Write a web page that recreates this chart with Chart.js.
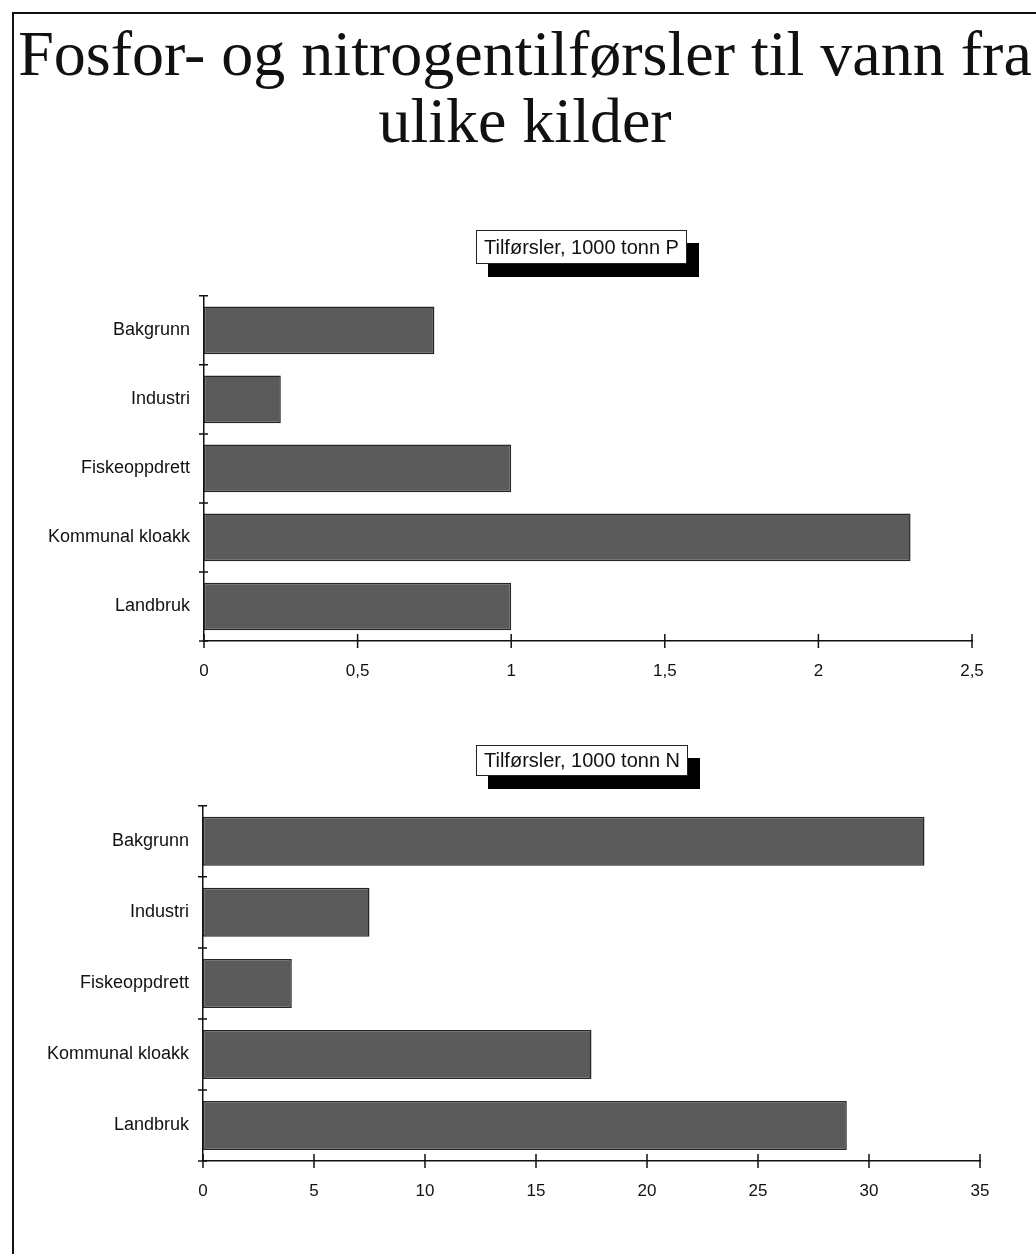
<!DOCTYPE html>
<html>
<head>
<meta charset="utf-8">
<script src="https://cdn.jsdelivr.net/npm/chart.js@4.4.1/dist/chart.umd.min.js"></script>
<style>
  body{margin:0;background:#fff;width:1036px;height:1254px;position:relative;overflow:hidden;}
  .frame{position:absolute;left:12px;top:12px;right:-4px;bottom:-4px;border-left:2px solid #111;border-top:2px solid #111;}
  .title{position:absolute;left:14px;width:1022px;top:20px;text-align:center;font-family:"Liberation Serif","Times New Roman",serif;font-size:64px;line-height:67px;color:#111;white-space:nowrap;}
  .box{position:absolute;background:#fff;border:1px solid #222;font-family:"Liberation Sans",Arial,sans-serif;font-size:20px;color:#111;padding:0 7px;box-shadow:12px 13px 0 #000;white-space:nowrap;}
  .wrap{position:absolute;}
</style>
</head>
<body>
<div class="frame"></div>
<div class="title">Fosfor- og nitrogentilførsler til vann fra<br>ulike kilder</div>

<div class="wrap" style="left:20px;top:271px;width:1000px;height:410px;"><canvas id="chartP"></canvas></div>
<div class="wrap" style="left:19px;top:781px;width:1000px;height:420px;"><canvas id="chartN"></canvas></div>

<div class="box" style="left:476px;top:230px;height:32px;line-height:32px;">Tilførsler, 1000 tonn P</div>
<div class="box" style="left:476px;top:745px;height:29px;line-height:29px;">Tilførsler, 1000 tonn N</div>

<script>
var kilder = ['Bakgrunn', 'Industri', 'Fiskeoppdrett', 'Kommunal kloakk', 'Landbruk'];
var fosfor = [0.75, 0.25, 1.0, 2.3, 1.0];
var nitrogen = [32.5, 7.5, 4.0, 17.5, 29.0];
var ticksP = [0, 0.5, 1, 1.5, 2, 2.5];
var ticksN = [0, 5, 10, 15, 20, 25, 30, 35];

// draws ticks that cross the axes, like the old print
var crossTicks = {
  id: 'crossTicks',
  afterDraw: function(chart){
    var ctx = chart.ctx;
    var x = chart.scales.x, y = chart.scales.y;
    var area = chart.chartArea;
    ctx.save();
    ctx.strokeStyle = '#111';
    ctx.lineWidth = 1.5;
    ctx.beginPath();
    x.ticks.forEach(function(t){
      var px = x.getPixelForValue(t.value);
      ctx.moveTo(px, area.bottom - 7);
      ctx.lineTo(px, area.bottom + 7);
    });
    for (var i = 0; i <= y.ticks.length; i++) {
      var py = y.getPixelForValue(i - 0.5);
      ctx.moveTo(area.left - 5, py);
      ctx.lineTo(area.left + 4, py);
    }
    ctx.stroke();
    ctx.restore();
  }
};

function makeChart(id, values, tickList, max){
  var ctx = document.getElementById(id).getContext('2d');
  return new Chart(ctx, {
    type: 'bar',
    data: {
      labels: kilder,
      datasets: [{
        data: values,
        backgroundColor: '#5a5a5a',
        borderColor: '#262626',
        borderWidth: 1.5,
        borderSkipped: false,
        barPercentage: 0.69,
        categoryPercentage: 1.0
      }]
    },
    options: {
      indexAxis: 'y',
      responsive: true,
      maintainAspectRatio: false,
      animation: false,
      layout: { padding: { top: 0, right: (id == 'chartP' ? 48 : 39), left: 0, bottom: 0 } },
      plugins: { legend: { display: false }, tooltip: { enabled: false } },
      scales: {
        x: {
          min: 0,
          max: max,
          afterBuildTicks: function(scale){
            scale.ticks = tickList.map(function(v){ return { value: v }; });
          },
          afterFit: function(scale){ scale.height = 40; },
          grid: { display: false, drawTicks: false },
          border: { display: true, color: '#111', width: 1.5 },
          ticks: {
            padding: 20,
            color: '#111',
            font: { family: 'Liberation Sans, Arial, sans-serif', size: 17 },
            maxRotation: 0,
            callback: function(v){ return String(v).replace('.', ','); }
          }
        },
        y: {
          afterFit: function(scale){ scale.width = 184; },
          grid: { display: false, drawTicks: false },
          border: { display: true, color: '#111', width: 1.5 },
          ticks: {
            padding: 14,
            color: '#111',
            font: { family: 'Liberation Sans, Arial, sans-serif', size: 18 }
          }
        }
      }
    },
    plugins: [crossTicks]
  });
}

makeChart('chartP', fosfor, ticksP, 2.5);
makeChart('chartN', nitrogen, ticksN, 35);
</script>
</body>
</html>
